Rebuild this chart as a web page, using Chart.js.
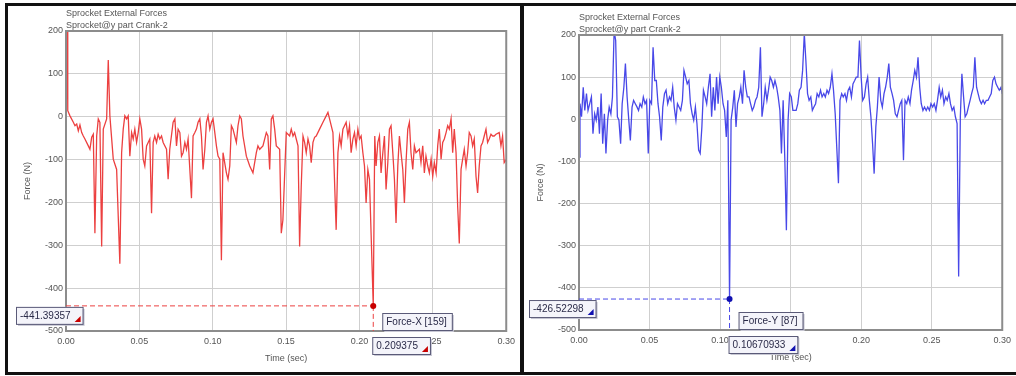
<!DOCTYPE html>
<html>
<head>
<meta charset="utf-8">
<script src="https://cdn.jsdelivr.net/npm/chart.js@4.4.0/dist/chart.umd.min.js"></script>
<style>
  body { margin: 0; background: #fff; width: 1016px; height: 376px; position: relative; overflow: hidden; }
  .panel { position: absolute; top: 3px; height: 366px; border: 3px solid #111; background: #fff; }
  #leftPanel { left: 5px; width: 512px; }
  #rightPanel { left: 521px; width: 500px; }
  canvas { position: absolute; left: 0; top: 0; }
</style>
</head>
<body>
<div class="panel" id="leftPanel"><canvas id="chartX" width="512" height="366"></canvas></div>
<div class="panel" id="rightPanel"><canvas id="chartY" width="492" height="366"></canvas></div>
<script>
const titleLines = ['Sprocket External Forces', 'Sprocket@y part Crank-2'];

// Force-X, sprocket joint
const timeX = [
  0.0008, 0.0012, 0.0027, 0.0050, 0.0061, 0.0073, 0.0084, 0.0095, 0.0107, 0.0118,
  0.0129, 0.0152, 0.0163, 0.0175, 0.0186, 0.0197, 0.0209, 0.0220, 0.0231, 0.0243,
  0.0254, 0.0277, 0.0288, 0.0299, 0.0322, 0.0345, 0.0367, 0.0379, 0.0390, 0.0401,
  0.0413, 0.0424, 0.0435, 0.0447, 0.0458, 0.0469, 0.0481, 0.0492, 0.0503, 0.0515,
  0.0526, 0.0537, 0.0549, 0.0560, 0.0571, 0.0583, 0.0594, 0.0605, 0.0617, 0.0628,
  0.0639, 0.0651, 0.0662, 0.0685, 0.0696, 0.0707, 0.0730, 0.0742, 0.0753, 0.0764,
  0.0776, 0.0787, 0.0798, 0.0810, 0.0821, 0.0832, 0.0855, 0.0866, 0.0878, 0.0889,
  0.0900, 0.0912, 0.0923, 0.0934, 0.0946, 0.0957, 0.0968, 0.0980, 0.0991, 0.1002,
  0.1014, 0.1025, 0.1036, 0.1048, 0.1059, 0.1070, 0.1093, 0.1104, 0.1116, 0.1127,
  0.1138, 0.1161, 0.1172, 0.1184, 0.1195, 0.1206, 0.1229, 0.1252, 0.1274, 0.1297,
  0.1308, 0.1320, 0.1342, 0.1365, 0.1376, 0.1388, 0.1399, 0.1410, 0.1422, 0.1433,
  0.1456, 0.1467, 0.1478, 0.1501, 0.1524, 0.1535, 0.1547, 0.1558, 0.1569, 0.1581,
  0.1592, 0.1603, 0.1615, 0.1626, 0.1637, 0.1649, 0.1660, 0.1671, 0.1683, 0.1694,
  0.1705, 0.1728, 0.1751, 0.1773, 0.1785, 0.1796, 0.1819, 0.1841, 0.1853, 0.1864,
  0.1875, 0.1887, 0.1909, 0.1921, 0.1932, 0.1943, 0.1955, 0.1966, 0.1977, 0.1989,
  0.2000, 0.2011, 0.2023, 0.2034, 0.2045, 0.2057, 0.2068, 0.209375, 0.2104, 0.2113,
  0.2125, 0.2136, 0.2147, 0.2159, 0.2170, 0.2181, 0.2193, 0.2204, 0.2215, 0.2227,
  0.2238, 0.2249, 0.2261, 0.2272, 0.2283, 0.2295, 0.2306, 0.2317, 0.2329, 0.2340,
  0.2351, 0.2363, 0.2374, 0.2385, 0.2408, 0.2419, 0.2431, 0.2442, 0.2453, 0.2465,
  0.2476, 0.2488, 0.2499, 0.2510, 0.2522, 0.2533, 0.2544, 0.2556, 0.2567, 0.2578,
  0.2590, 0.2601, 0.2612, 0.2624, 0.2635, 0.2646, 0.2658, 0.2669, 0.2680, 0.2692,
  0.2703, 0.2714, 0.2726, 0.2737, 0.2748, 0.2760, 0.2771, 0.2782, 0.2794, 0.2805,
  0.2816, 0.2828, 0.2839, 0.2850, 0.2862, 0.2873, 0.2884, 0.2896, 0.2907, 0.2918,
  0.2930, 0.2952, 0.2964, 0.2975, 0.2986, 0.3000
];
const forceX = [
  220, 14, 2, -13, -21, -17, -33, -19, -37, -45,
  -52, -68, -76, -48, -41, -272, -45, -5, -13, -303,
  -29, -5, 132, 2, -99, -123, -343, -84, -29, 2,
  -5, 2, -92, -37, -52, -29, -60, -37, -5, -29,
  -99, -115, -68, -60, -52, -225, -60, -45, -60, -41,
  -52, -45, -60, -76, -146, -76, -13, -5, -68, -29,
  -37, -92, -84, -60, -76, -52, -190, -45, -37, -29,
  -13, -5, -45, -123, -76, -13, 2, -29, -13, -5,
  -37, -68, -92, -99, -335, -84, -131, -146, -115, -21,
  -29, -60, -21, 2, -5, -45, -92, -115, -131, -84,
  -68, -76, -68, -37, -45, -123, -5, 2, -29, -68,
  -76, -272, -241, -37, -45, -29, -45, -37, -52, -68,
  -303, -162, -45, -60, -84, -52, -68, -107, -60, -48,
  -45, -29, -13, 2, 10, -5, -37, -264, -84, -45,
  -68, -29, -13, -45, -21, -84, -52, -37, -68, -29,
  -52, -45, -84, -115, -201, -123, -146, -441.39357, -45, -115,
  -60, -45, -131, -84, -45, -170, -107, -29, -21, -84,
  -146, -248, -115, -45, -84, -123, -201, -107, -29, -13,
  -84, -123, -68, -84, -76, -107, -68, -131, -92, -115,
  -131, -99, -139, -107, -131, -68, -29, -99, -60, -52,
  -37, -21, -29, -5, -84, -29, -84, -209, -296, -123,
  -99, -76, -115, -84, -37, -45, -68, -52, -139, -178,
  -115, -68, -60, -45, -29, -60, -52, -41, -45, -45,
  -41, -37, -68, -45, -107, -100
];

// Force-Y, sprocket joint
const timeY = [
  0, 0.0007, 0.0018, 0.0030, 0.0041, 0.0053, 0.0064, 0.0076, 0.0088, 0.0099,
  0.0111, 0.0122, 0.0134, 0.0145, 0.0157, 0.0168, 0.0180, 0.0191, 0.0203, 0.0214,
  0.0226, 0.0237, 0.0249, 0.0260, 0.0272, 0.0283, 0.0295, 0.0306, 0.0318, 0.0329,
  0.0341, 0.0353, 0.0364, 0.0376, 0.0387, 0.0399, 0.0410, 0.0422, 0.0433, 0.0445,
  0.0456, 0.0468, 0.0479, 0.0491, 0.0502, 0.0514, 0.0525, 0.0537, 0.0548, 0.0560,
  0.0571, 0.0583, 0.0594, 0.0606, 0.0617, 0.0629, 0.0641, 0.0652, 0.0664, 0.0675,
  0.0687, 0.0698, 0.0721, 0.0733, 0.0744, 0.0756, 0.0767, 0.0779, 0.0790, 0.0802,
  0.0813, 0.0825, 0.0836, 0.0848, 0.0859, 0.0871, 0.0882, 0.0894, 0.0905, 0.0917,
  0.0929, 0.0940, 0.0952, 0.0963, 0.0975, 0.0986, 0.0998, 0.1009, 0.1021, 0.1032,
  0.1044, 0.1055, 0.10670933, 0.1078, 0.1090, 0.1101, 0.1113, 0.1124, 0.1136, 0.1147,
  0.1159, 0.1170, 0.1182, 0.1193, 0.1205, 0.1216, 0.1228, 0.1239, 0.1251, 0.1262,
  0.1274, 0.1286, 0.1297, 0.1309, 0.1320, 0.1332, 0.1343, 0.1355, 0.1366, 0.1378,
  0.1389, 0.1401, 0.1412, 0.1424, 0.1435, 0.1447, 0.1459, 0.1470, 0.1482, 0.1493,
  0.1505, 0.1516, 0.1528, 0.1539, 0.1551, 0.1562, 0.1574, 0.1585, 0.1597, 0.1608,
  0.1620, 0.1631, 0.1643, 0.1654, 0.1665, 0.1677, 0.1688, 0.1700, 0.1712, 0.1723,
  0.1735, 0.1746, 0.1758, 0.1769, 0.1781, 0.1793, 0.1804, 0.1816, 0.1827, 0.1839,
  0.1850, 0.1862, 0.1873, 0.1885, 0.1896, 0.1908, 0.1919, 0.1931, 0.1942, 0.1954,
  0.1965, 0.1977, 0.1988, 0.2000, 0.2011, 0.2023, 0.2035, 0.2046, 0.2058, 0.2069,
  0.2081, 0.2092, 0.2104, 0.2115, 0.2127, 0.2139, 0.2150, 0.2162, 0.2173, 0.2185,
  0.2196, 0.2207, 0.2219, 0.2230, 0.2242, 0.2254, 0.2265, 0.2277, 0.2288, 0.2300,
  0.2311, 0.2323, 0.2334, 0.2346, 0.2357, 0.2369, 0.2380, 0.2392, 0.2403, 0.2415,
  0.2426, 0.2438, 0.2449, 0.2461, 0.2472, 0.2484, 0.2495, 0.2507, 0.2518, 0.2530,
  0.2541, 0.2553, 0.2564, 0.2576, 0.2587, 0.2599, 0.2610, 0.2622, 0.2633, 0.2645,
  0.2657, 0.2668, 0.2680, 0.2691, 0.2703, 0.2714, 0.2726, 0.2737, 0.2749, 0.2760,
  0.2772, 0.2783, 0.2795, 0.2806, 0.2818, 0.2829, 0.2841, 0.2852, 0.2864, 0.2875,
  0.2887, 0.2899, 0.2910, 0.2922, 0.2933, 0.2945, 0.2956, 0.2968, 0.2979, 0.2991,
  0.3000
];
const forceY = [
  -90, 37, 6, 76, 21, 61, 21, 37, 53, -34,
  13, -2, 29, -34, 61, -58, 13, -81, -2, 29,
  13, 53, 210, 187, 6, -2, -58, 37, 76, 132,
  53, -2, -50, 29, 45, 37, 30, 21, 37, 29,
  53, 37, 45, -81, 45, 37, 171, 92, 92, 37,
  6, -50, 29, 61, 69, 37, 53, 45, 76, 29,
  -2, 37, 21, 45, 116, 100, 84, 92, 37, 13,
  -2, 29, -10, -73, -81, -18, 69, 53, 37, 76,
  108, 6, 76, 21, 100, 37, 100, 76, 37, 21,
  -42, 45, -426.52298, -2, 29, 69, -18, 37, 53, 76,
  37, 116, 76, 53, 53, 37, 21, 29, 45, 53,
  76, 171, 6, 37, 76, 45, 69, 100, 92, 76,
  92, 76, 53, 21, -81, 45, -97, -263, -2, 61,
  53, 21, 21, 21, 37, 69, 76, 116, 203, 140,
  61, 45, 53, 21, 29, 37, 61, 53, 69, 53,
  61, 53, 69, 61, 76, 108, 69, 13, -66, -152,
  45, 61, 53, 61, 45, 69, 76, 53, 84, 92,
  100, 100, 187, 100, 45, 53, 84, 100, 45, 6,
  -58, -129, -18, 29, 100, 45, 29, 61, 76, 100,
  132, 76, 61, 45, 13, 6, 21, 37, 45, -97,
  45, 37, 53, 37, 69, 92, 116, 100, 147, 76,
  37, 21, 29, 21, 29, 21, 37, 29, 37, 21,
  45, 76, 53, 69, 37, 53, 45, 61, 37, 21,
  29, 6, -10, -373, 6, 108, 53, 6, 13, 29,
  45, 61, 76, 147, 76, 61, 45, 37, 45, 37,
  45, 45, 53, 61, 92, 100, 84, 76, 69, 76,
  60
];

// picked points shown with cross-hair readouts
const pickX = { t: 0.209375, f: -441.39357, name: 'Force-X [159]' };
const pickY = { t: 0.10670933, f: -426.52298, name: 'Force-Y [87]' };

const FONT = '9px "Liberation Sans", Arial, sans-serif';
const BOX_FONT = '10px "Liberation Sans", Arial, sans-serif';

function labelBox(ctx, x, y, text, accent) {
  ctx.font = BOX_FONT;
  const w = ctx.measureText(text).width + (accent ? 16 : 9);
  const h = 17;
  ctx.fillStyle = '#c8c8d4';
  ctx.fillRect(x + 2, y + 2, w, h);
  ctx.fillStyle = '#f4f4fa';
  ctx.fillRect(x, y, w, h);
  ctx.strokeStyle = '#5a5a78';
  ctx.lineWidth = 1;
  ctx.strokeRect(x + 0.5, y + 0.5, w, h);
  ctx.fillStyle = '#2a2a48';
  ctx.textAlign = 'left';
  ctx.textBaseline = 'middle';
  ctx.fillText(text, x + 4, y + h / 2 + 1);
  if (accent) {
    ctx.fillStyle = accent;
    ctx.beginPath();
    ctx.moveTo(x + w - 2, y + h - 8);
    ctx.lineTo(x + w - 2, y + h - 2);
    ctx.lineTo(x + w - 8, y + h - 2);
    ctx.closePath();
    ctx.fill();
  }
}

const decorPlugin = {
  id: 'decor',
  afterDraw(chart, args, opts) {
    const ctx = chart.ctx;
    const a = chart.chartArea;
    const xs = chart.scales.x, ys = chart.scales.y;
    ctx.save();

    // plot frame
    ctx.strokeStyle = '#8c8c8c';
    ctx.lineWidth = 2;
    ctx.strokeRect(a.left, a.top, a.right - a.left, a.bottom - a.top);

    // titles
    ctx.font = FONT;
    ctx.fillStyle = '#555';
    ctx.textAlign = 'left';
    ctx.textBaseline = 'middle';
    ctx.fillText(titleLines[0], a.left, a.top - 17);
    ctx.fillText(titleLines[1], a.left, a.top - 5);

    ctx.textAlign = 'center';
    ctx.fillText('Time (sec)', (a.left + a.right) / 2, a.bottom + 28);
    ctx.save();
    ctx.translate(a.left - 38, (a.top + a.bottom) / 2);
    ctx.rotate(-Math.PI / 2);
    ctx.fillText('Force (N)', 0, 0);
    ctx.restore();

    // cross-hair on picked point
    const p = opts.pick;
    const px = xs.getPixelForValue(p.t);
    const py = ys.getPixelForValue(p.f);
    ctx.strokeStyle = opts.color;
    ctx.lineWidth = 1;
    ctx.setLineDash([5, 3]);
    ctx.beginPath();
    ctx.moveTo(a.left, py);
    ctx.lineTo(px, py);
    ctx.moveTo(px, py);
    ctx.lineTo(px, a.bottom);
    ctx.stroke();
    ctx.setLineDash([]);
    ctx.fillStyle = opts.dot;
    ctx.beginPath();
    ctx.arc(px, py, 3, 0, Math.PI * 2);
    ctx.fill();

    labelBox(ctx, a.left - 50, py + 1, String(p.f), opts.dot);
    labelBox(ctx, px + 9, a.bottom - 18, p.name, null);
    labelBox(ctx, px - 1, a.bottom + 6, String(p.t), opts.dot);
    ctx.restore();
  }
};

function makeChart(id, times, values, color, pick, dot, yWidth, xHeight, pad) {
  return new Chart(document.getElementById(id), {
    type: 'line',
    data: {
      datasets: [{
        data: times.map((t, i) => ({ x: t, y: values[i] })),
        borderColor: color,
        borderWidth: 1.3,
        pointRadius: 0,
        tension: 0
      }]
    },
    options: {
      responsive: false,
      animation: false,
      layout: { padding: pad },
      plugins: {
        legend: { display: false },
        tooltip: { enabled: false },
        decor: { pick: pick, color: color, dot: dot }
      },
      scales: {
        x: {
          type: 'linear',
          min: 0, max: 0.3,
          afterFit(s) { s.height = xHeight; },
          ticks: {
            stepSize: 0.05,
            padding: 5,
            color: '#555',
            font: { family: '"Liberation Sans", Arial, sans-serif', size: 9 },
            callback: v => v.toFixed(2)
          },
          grid: { color: '#cfcfcf', drawTicks: false },
          border: { color: '#777', width: 2 }
        },
        y: {
          min: -500, max: 200,
          afterFit(s) { s.width = yWidth; },
          ticks: {
            stepSize: 100,
            padding: 3,
            color: '#555',
            font: { family: '"Liberation Sans", Arial, sans-serif', size: 9 }
          },
          grid: { color: '#cfcfcf', drawTicks: false },
          border: { color: '#777', width: 2 }
        }
      }
    },
    plugins: [decorPlugin]
  });
}

makeChart('chartX', timeX, forceX, 'rgb(236,64,64)', pickX, '#c80000', 58, 41,
  { top: 25, right: 13, left: 0, bottom: 0 });
makeChart('chartY', timeY, forceY, 'rgb(72,72,232)', pickY, '#1010b0', 55, 42,
  { top: 29, right: 4, left: 0, bottom: 0 });
</script>
</body>
</html>
